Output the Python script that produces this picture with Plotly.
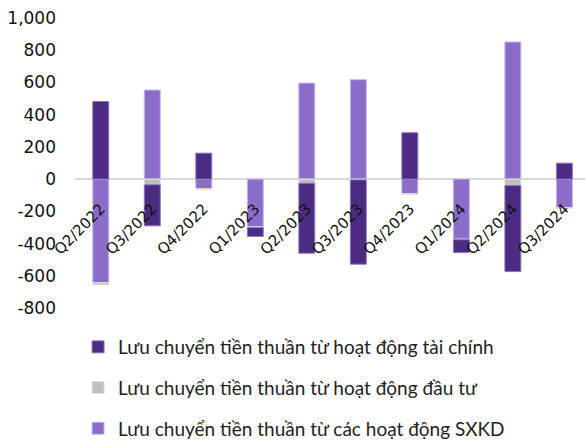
import plotly.graph_objects as go

categories = ["Q2/2022", "Q3/2022", "Q4/2022", "Q1/2023", "Q2/2023",
              "Q3/2023", "Q4/2023", "Q1/2024", "Q2/2024", "Q3/2024"]
tai_chinh = [482, -255, 161, -55, -435, -523, 288, -80, -534, 99]
dau_tu = [-14, -35, -3, -5, -25, -5, -3, -3, -40, -3]
sxkd = [-642, 553, -60, -296, 596, 617, -91, -373, 851, -178]

tick_vals = [-800, -600, -400, -200, 0, 200, 400, 600, 800, 1000]
tick_text = ["-800", "-600", "-400", "-200", "0", "200", "400", "600", "800", "1,000"]

names = ["Lưu chuyển tiền thuần từ hoạt động tài chính",
         "Lưu chuyển tiền thuần từ hoạt động đầu tư",
         "Lưu chuyển tiền thuần từ các hoạt động SXKD"]

fig = go.Figure()
# stacking order: SXKD closest to zero, then investing, then financing
fig.add_trace(go.Bar(x=categories, y=sxkd, name=names[2], legendgroup="c", legendrank=3,
                     marker=dict(color="#8b6cc9", line=dict(color="#c6b6ea", width=1))))
fig.add_trace(go.Bar(x=categories, y=dau_tu, name=names[1], legendgroup="b", legendrank=2,
                     marker=dict(color="#c0c0c0", line=dict(color="#e0e0e0", width=1))))
fig.add_trace(go.Bar(x=categories, y=tai_chinh, name=names[0], legendgroup="a", legendrank=1,
                     marker=dict(color="#4b2c82", line=dict(color="#8e78bf", width=1))))

fig.update_layout(
    width=585, height=448,
    margin=dict(l=74.5, r=0, t=18, b=140),
    barmode="relative",
    bargap=0.69,
    plot_bgcolor="white", paper_bgcolor="white",
    showlegend=True,
    legend=dict(
        x=0.006, y=-140 / 290, xanchor="left", yanchor="bottom",
        orientation="v", traceorder="grouped", tracegroupgap=13,
        font=dict(family="Lato", size=19, color="#222222"),
        itemwidth=30,
    ),
    xaxis=dict(
        type="category", range=[-0.5, 9.4],
        anchor="free", position=800 / 1800,
        tickangle=-45, showline=False, ticks="", showgrid=False,
        tickfont=dict(family="DejaVu Sans", size=15, color="#111111"),
        ticklabelstandoff=17,
    ),
    yaxis=dict(
        range=[-800, 1000], tickvals=tick_vals, ticktext=tick_text,
        showgrid=False, zeroline=True, zerolinecolor="#d9d9d9", zerolinewidth=1.5,
        tickfont=dict(family="DejaVu Sans", size=17, color="#111111"),
        ticks="", ticklabelstandoff=18,
    ),
)

fig.write_html("out.html", config={"displayModeBar": False},
               post_script="document.body.style.margin='0';")
